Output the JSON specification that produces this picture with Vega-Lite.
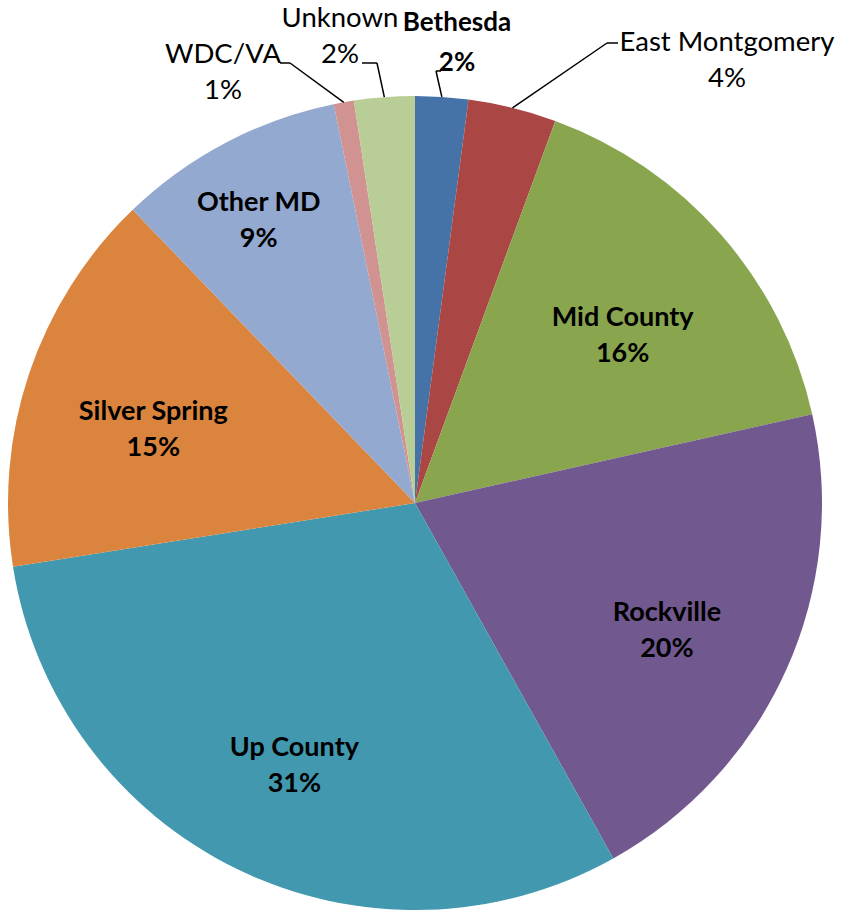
{
  "$schema": "https://vega.github.io/schema/vega-lite/v6.json",
  "width": 830,
  "height": 838,
  "autosize": {"type": "none"},
  "padding": {"left": 0, "top": 84, "right": 12, "bottom": 0},
  "background": "white",
  "config": {"view": {"stroke": null}, "text": {"font": "Lato"}},
  "data": {
    "values": [
      {"name": "Bethesda", "value": 2.1},
      {"name": "East Montgomery", "value": 3.5},
      {"name": "Mid County", "value": 15.9},
      {"name": "Rockville", "value": 20.4},
      {"name": "Up County", "value": 30.6},
      {"name": "Silver Spring", "value": 15.3},
      {"name": "Other MD", "value": 9.0},
      {"name": "WDC/VA", "value": 0.8},
      {"name": "Unknown", "value": 2.4}
    ]
  },
  "transform": [
    {"window": [{"op": "row_number", "as": "idx"}]},
    {"window": [{"op": "sum", "field": "value", "as": "cum"}], "sort": [{"field": "idx"}], "frame": [null, 0]},
    {"joinaggregate": [{"op": "sum", "field": "value", "as": "total"}]},
    {"calculate": "2*PI*(datum.cum - datum.value/2)/datum.total", "as": "mid"},
    {"calculate": "format(datum.value/datum.total, '.0%')", "as": "pct"},
    {"calculate": "datum.name + '\\n' + datum.pct", "as": "label"},
    {"calculate": "datum.value/datum.total >= 0.05", "as": "inside"},
    {"calculate": "datum.value/datum.total < 0.1 ? 336 : 276", "as": "lr"},
    {"calculate": "407*sin(datum.mid)", "as": "x0"},
    {"calculate": "407*cos(datum.mid)", "as": "y0"},
    {"calculate": "datum.name==='Bethesda' ? 21 : datum.name==='East Montgomery' ? 192 : datum.name==='Unknown' ? -38 : -125", "as": "x1"},
    {"calculate": "datum.name==='Bethesda' ? 432 : datum.name==='East Montgomery' ? 460 : 440", "as": "y1"},
    {"calculate": "datum.name==='Bethesda' ? 26 : datum.name==='East Montgomery' ? 203 : datum.name==='Unknown' ? -53 : -135", "as": "x2"},
    {"calculate": "datum.inside ? datum.lr*sin(datum.mid) : (datum.name==='Bethesda' ? 42 : datum.name==='East Montgomery' ? 312 : datum.name==='Unknown' ? -75 : -192)", "as": "lx"},
    {"calculate": "datum.inside ? datum.lr*cos(datum.mid) : (datum.name==='Bethesda' ? 460 : datum.name==='East Montgomery' ? 442 : datum.name==='Unknown' ? 466 : 430)", "as": "ly"}
  ],
  "layer": [
    {
      "mark": {"type": "arc", "outerRadius": 407, "stroke": null},
      "encoding": {
        "theta": {"field": "value", "type": "quantitative", "stack": true},
        "order": {"field": "idx", "type": "quantitative"},
        "color": {
          "field": "name",
          "type": "nominal",
          "legend": null,
          "scale": {
            "domain": ["Bethesda", "East Montgomery", "Mid County", "Rockville", "Up County", "Silver Spring", "Other MD", "WDC/VA", "Unknown"],
            "range": ["#4572A7", "#AA4643", "#89A54E", "#71588F", "#4198AF", "#DB843D", "#93A9CF", "#D19392", "#B9CD96"]
          }
        }
      }
    },
    {
      "transform": [{"filter": "!datum.inside"}],
      "mark": {"type": "rule", "color": "black", "strokeWidth": 1.5},
      "encoding": {
        "x": {"field": "x0", "type": "quantitative", "scale": {"domain": [-415, 415], "nice": false, "zero": false}, "axis": null},
        "y": {"field": "y0", "type": "quantitative", "scale": {"domain": [-419, 419], "nice": false, "zero": false}, "axis": null},
        "x2": {"field": "x1"},
        "y2": {"field": "y1"}
      }
    },
    {
      "transform": [{"filter": "!datum.inside"}],
      "mark": {"type": "rule", "color": "black", "strokeWidth": 1.5},
      "encoding": {
        "x": {"field": "x1", "type": "quantitative"},
        "y": {"field": "y1", "type": "quantitative"},
        "x2": {"field": "x2"}
      }
    },
    {
      "transform": [{"filter": "datum.inside"}],
      "mark": {"type": "text", "lineBreak": "\n", "fontSize": 27, "fontWeight": "bold", "lineHeight": 36, "align": "center", "baseline": "middle", "dy": -3, "color": "black"},
      "encoding": {
        "x": {"field": "lx", "type": "quantitative"},
        "y": {"field": "ly", "type": "quantitative"},
        "text": {"field": "label"}
      }
    },
    {
      "transform": [{"filter": "!datum.inside && datum.name !== 'Bethesda'"}],
      "mark": {"type": "text", "lineBreak": "\n", "fontSize": 27.5, "fontWeight": "normal", "lineHeight": 36, "align": "center", "baseline": "middle", "dy": -18, "color": "black"},
      "encoding": {
        "x": {"field": "lx", "type": "quantitative"},
        "y": {"field": "ly", "type": "quantitative"},
        "text": {"field": "label"}
      }
    },
    {
      "transform": [{"filter": "datum.name === 'Bethesda'"}],
      "mark": {"type": "text", "lineBreak": "\n", "fontSize": 26, "fontWeight": "bold", "lineHeight": 40, "align": "center", "baseline": "middle", "dy": -20, "color": "black"},
      "encoding": {
        "x": {"field": "lx", "type": "quantitative"},
        "y": {"field": "ly", "type": "quantitative"},
        "text": {"field": "label"}
      }
    }
  ]
}
